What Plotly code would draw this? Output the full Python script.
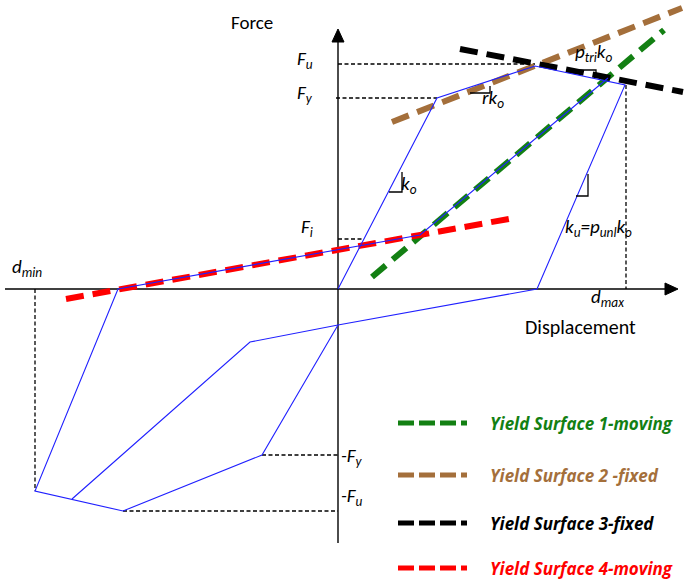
import plotly.graph_objects as go

# ---------------- data (schematic units: displacement d, force F) ----------------
# hysteresis response path (blue)
path1_d = [0, 99, 197, 287, 199, 0, -88, -266]
path1_F = [0, 191, 223, 204, 0, -36, -53, -210]
path2_d = [0, -76, -215, -303, -220, 82, 270]
path2_F = [-36, -166, -222, -202, 0, 54, 211]

# yield surfaces
ys_names = ["Yield Surface 1-moving", "Yield Surface 2 -fixed",
            "Yield Surface 3-fixed", "Yield Surface 4-moving"]
ys_colors = ["#138013", "#a46f3b", "#000000", "#ff0000"]
ys_d = [[34, 326], [54, 344], [122, 345], [-272, 176]]
ys_F = [[12, 259], [167, 281], [240, 197], [-10, 71]]

# characteristic levels
Fu, Fy, Fi = 225, 191, 50
negFy, negFu = -166, -222
Fu_d, Fy_d, Fi_d = 197, 99, 26
negFy_d, negFu_d = -76, -215
d_max, F_at_dmax = 287, 204
d_min, F_at_dmin = -303, -202

# axis extents
x_axis = [-333, 330]
y_axis = [-254, 247]

FONT = "Carlito, Lato, 'Open Sans', sans-serif"
LEG_FONT = "'Open Sans', Lato, sans-serif"

fig = go.Figure()

def line(xs, ys, color="black", width=1, dash=None):
    fig.add_trace(go.Scatter(x=xs, y=ys, mode="lines", showlegend=False,
                             hoverinfo="skip",
                             line=dict(color=color, width=width, dash=dash)))

# axes
line(x_axis, [0, 0], width=1.4)
line([0, 0], y_axis, width=1.4)
# arrowheads
fig.add_trace(go.Scatter(x=[-6, 0, 6, -6], y=[y_axis[1], 260, y_axis[1], y_axis[1]],
                         mode="lines", fill="toself", fillcolor="black",
                         line=dict(color="black", width=1), showlegend=False, hoverinfo="skip"))
fig.add_trace(go.Scatter(x=[x_axis[1]-3, 340, x_axis[1]-3, x_axis[1]-3], y=[6, 0, -6, 6],
                         mode="lines", fill="toself", fillcolor="black",
                         line=dict(color="black", width=1), showlegend=False, hoverinfo="skip"))

# dashed guides
dsh = "4px,2.5px"
gw = 1.3
line([0, Fu_d], [Fu, Fu], dash=dsh, width=gw)
line([-2, Fy_d], [Fy, Fy], dash=dsh, width=gw)
line([0, Fi_d], [Fi, Fi], dash=dsh, width=gw)
line([d_max + 1, d_max + 1], [F_at_dmax, 0], dash=dsh, width=gw)
line([d_min, d_min], [0, F_at_dmin], dash=dsh, width=gw)
line([negFy_d, 0], [negFy, negFy], dash=dsh, width=gw)
line([negFu_d, 0], [negFu, negFu], dash=dsh, width=gw)

# yield surfaces
for xs, ys, c in zip(ys_d, ys_F, ys_colors):
    line(xs, ys, color=c, width=6, dash="18px,9px")

# hysteresis path
line(path1_d, path1_F, color="#2020ff", width=1.1)
line(path2_d, path2_F, color="#2020ff", width=1.1)

# slope triangles
line([51, 64, 64], [97, 97, 117], width=1.3)          # k_o
line([238, 250, 250], [93, 93, 115], width=1.3)       # k_u
line([132, 152, 152], [196, 196, 203], width=1.3)     # r k_o
line([238, 258, 258], [219, 219, 214], width=1.3)     # p_tri k_o

# labels
def label(x, y, text, size=17, anchor="center", color="black", family=FONT):
    fig.add_annotation(x=x, y=y, text=text, showarrow=False, xanchor=anchor,
                       yanchor="middle", font=dict(family=family, size=size, color=color))

label(-86, 267, "Force", size=19)
label(242, -38, "Displacement", size=20)
label(-33, 229, "<i>F<sub>u</sub></i>", size=19)
label(-33, 195, "<i>F<sub>y</sub></i>", size=19)
label(-31, 61, "<i>F<sub>i</sub></i>", size=19)
label(-311, 21, "<i>d<sub>min</sub></i>", size=19)
label(269, -9, "<i>d<sub>max</sub></i>", size=19)
label(1, -168, "<i>-F<sub>y</sub></i>", anchor="left", size=19)
label(1, -208, "<i>-F<sub>u</sub></i>", anchor="left", size=19)
label(71, 104, "<i>k<sub>o</sub></i>", size=19)
label(155, 190, "<i>rk<sub>o</sub></i>", size=19)
label(256, 236, "<i>p<sub>tri</sub>k<sub>o</sub></i>", size=19)
label(260, 61, "<i>k<sub>u</sub>=p<sub>unl</sub>k<sub>o</sub></i>", size=19)

# legend
leg_y = [-134, -186, -234, -279]
for name, c, yy in zip(ys_names, ys_colors, leg_y):
    line([60, 129], [yy, yy], color=c, width=5, dash="16px,5px")
    label(150, yy, "<b><i>" + name + "</i></b>", size=17, anchor="left", color=c,
          family=LEG_FONT)

fig.update_layout(
    width=685, height=582,
    margin=dict(l=0, r=0, t=0, b=0),
    paper_bgcolor="white", plot_bgcolor="white",
    xaxis=dict(range=[-338, 347], visible=False, fixedrange=True),
    yaxis=dict(range=[-293, 289], visible=False, fixedrange=True),
    showlegend=False,
)

fig.write_html("out.html")
